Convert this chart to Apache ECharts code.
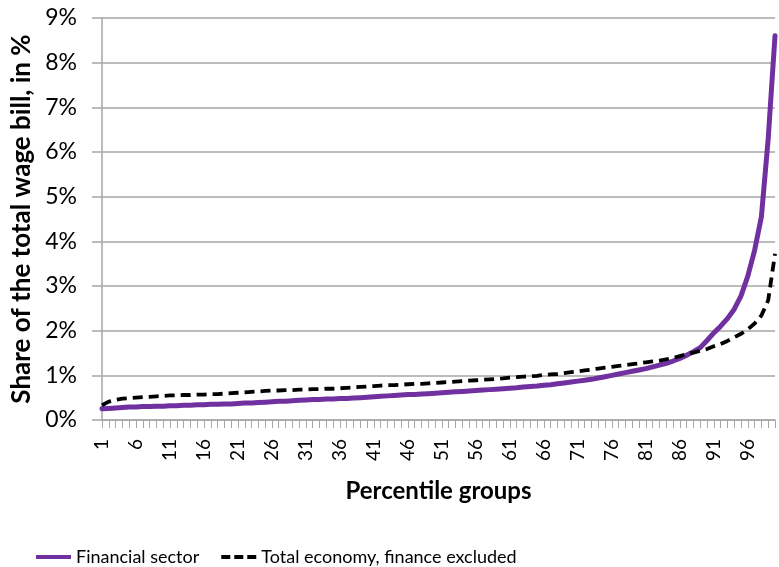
<!DOCTYPE html>
<html>
<head>
<meta charset="utf-8">
<title>Wage bill shares by percentile group</title>
<script src="https://cdn.jsdelivr.net/npm/echarts@6/dist/echarts.min.js"></script>
<style>
  html, body { margin: 0; padding: 0; background: #fff; }
  #chart { width: 779px; height: 567px; }
</style>
</head>
<body>
<div id="chart"></div>
<script>
// Percentile groups 1..100
const percentiles = [];
for (let p = 1; p <= 100; p++) percentiles.push(String(p));

// Share of the total wage bill (%) per percentile group, financial sector
const financialSector = [
  0.25, 0.26, 0.27, 0.28, 0.29, 0.29, 0.30, 0.30, 0.31, 0.31,
  0.32, 0.32, 0.33, 0.33, 0.34, 0.34, 0.35, 0.35, 0.36, 0.36,
  0.37, 0.38, 0.38, 0.39, 0.40, 0.41, 0.42, 0.42, 0.43, 0.44,
  0.45, 0.46, 0.46, 0.47, 0.47, 0.48, 0.48, 0.49, 0.50, 0.51,
  0.52, 0.53, 0.54, 0.55, 0.56, 0.57, 0.57, 0.58, 0.59, 0.60,
  0.61, 0.62, 0.63, 0.64, 0.65, 0.66, 0.67, 0.68, 0.69, 0.70,
  0.71, 0.72, 0.74, 0.75, 0.76, 0.78, 0.79, 0.81, 0.83, 0.85,
  0.87, 0.89, 0.91, 0.94, 0.97, 1.00, 1.03, 1.06, 1.09, 1.12,
  1.15, 1.19, 1.23, 1.27, 1.32, 1.38, 1.45, 1.53, 1.62, 1.78,
  1.95, 2.10, 2.27, 2.48, 2.78, 3.22, 3.80, 4.55, 6.30, 8.60
];

// Share of the total wage bill (%) per percentile group, total economy without finance
const totalEconomyExFinance = [
  0.33, 0.41, 0.45, 0.48, 0.49, 0.50, 0.51, 0.52, 0.53, 0.54,
  0.55, 0.55, 0.56, 0.56, 0.57, 0.57, 0.58, 0.58, 0.59, 0.60,
  0.61, 0.62, 0.63, 0.64, 0.65, 0.66, 0.66, 0.67, 0.67, 0.68,
  0.68, 0.69, 0.69, 0.70, 0.70, 0.71, 0.72, 0.73, 0.74, 0.75,
  0.76, 0.77, 0.78, 0.78, 0.79, 0.80, 0.81, 0.81, 0.82, 0.83,
  0.84, 0.85, 0.86, 0.87, 0.88, 0.89, 0.90, 0.91, 0.92, 0.93,
  0.95, 0.96, 0.97, 0.98, 0.99, 1.01, 1.02, 1.03, 1.05, 1.07,
  1.09, 1.11, 1.13, 1.15, 1.17, 1.19, 1.21, 1.23, 1.25, 1.27,
  1.29, 1.31, 1.33, 1.36, 1.39, 1.43, 1.47, 1.51, 1.55, 1.59,
  1.65, 1.70, 1.77, 1.85, 1.93, 2.03, 2.16, 2.34, 2.68, 3.72
];

const seriesNames = ['Financial sector', 'Total economy, finance excluded'];
const axisTitles = { x: 'Percentile groups', y: 'Share of the total wage bill, in %' };

const FONT = 'Lato, "Open Sans", sans-serif';
const GRID_GRAY = '#a6a6a6';
const PURPLE = '#7030a0';

// Legend keys: a solid bar and a three-dash bar
const SOLID_KEY = 'path://M0,0H36V4H0Z';
const DASHED_KEY = 'path://M0,0H9V4H0Z M13,0H22V4H13Z M26,0H35V4H26Z';

const chart = echarts.init(document.getElementById('chart'), null, { renderer: 'canvas' });

chart.setOption({
  animation: false,
  backgroundColor: '#ffffff',
  textStyle: { fontFamily: FONT, color: '#000' },
  grid: { left: 102, right: 4, top: 18, bottom: 147, containLabel: false },
  legend: {
    left: 31,
    top: 543,
    itemWidth: 35,
    itemHeight: 4,
    itemGap: 22,
    textStyle: { fontFamily: FONT, fontSize: 18, color: '#000' },
    data: [
      { name: seriesNames[0], icon: SOLID_KEY },
      { name: seriesNames[1], icon: DASHED_KEY }
    ]
  },
  xAxis: {
    type: 'category',
    data: percentiles,
    boundaryGap: false,
    name: axisTitles.x,
    nameLocation: 'middle',
    nameGap: 59,
    nameTextStyle: { fontFamily: FONT, fontSize: 24, fontWeight: 'bold', color: '#000' },
    axisLine: { lineStyle: { color: GRID_GRAY, width: 1.5 } },
    axisTick: { interval: 0, length: 8, lineStyle: { color: GRID_GRAY, width: 1 } },
    axisLabel: {
      interval: 4,
      rotate: 90,
      margin: 19,
      fontFamily: FONT,
      fontSize: 19,
      color: '#000'
    },
    splitLine: { show: false }
  },
  yAxis: {
    type: 'value',
    min: 0,
    max: 9,
    interval: 1,
    name: axisTitles.y,
    nameLocation: 'middle',
    nameGap: 66,
    nameTextStyle: { fontFamily: FONT, fontSize: 26, fontWeight: 'bold', color: '#000' },
    axisLine: { show: true, lineStyle: { color: GRID_GRAY, width: 1.5 } },
    axisTick: { show: true, length: 10, lineStyle: { color: GRID_GRAY, width: 1.5 } },
    axisLabel: {
      margin: 25,
      fontFamily: FONT,
      fontSize: 23,
      color: '#000',
      formatter: '{value}%'
    },
    splitLine: { lineStyle: { color: GRID_GRAY, width: 1.5 } }
  },
  series: [
    {
      name: seriesNames[0],
      type: 'line',
      data: financialSector,
      showSymbol: false,
      symbol: 'none',
      lineStyle: { color: PURPLE, width: 5, cap: 'round', join: 'round' },
      itemStyle: { color: PURPLE },
      emphasis: { disabled: true },
      z: 3
    },
    {
      name: seriesNames[1],
      type: 'line',
      data: totalEconomyExFinance,
      showSymbol: false,
      symbol: 'none',
      lineStyle: { color: '#000000', width: 3.8, type: [10, 6], cap: 'butt', join: 'round' },
      itemStyle: { color: '#000000' },
      emphasis: { disabled: true },
      z: 4
    }
  ]
});
</script>
</body>
</html>
